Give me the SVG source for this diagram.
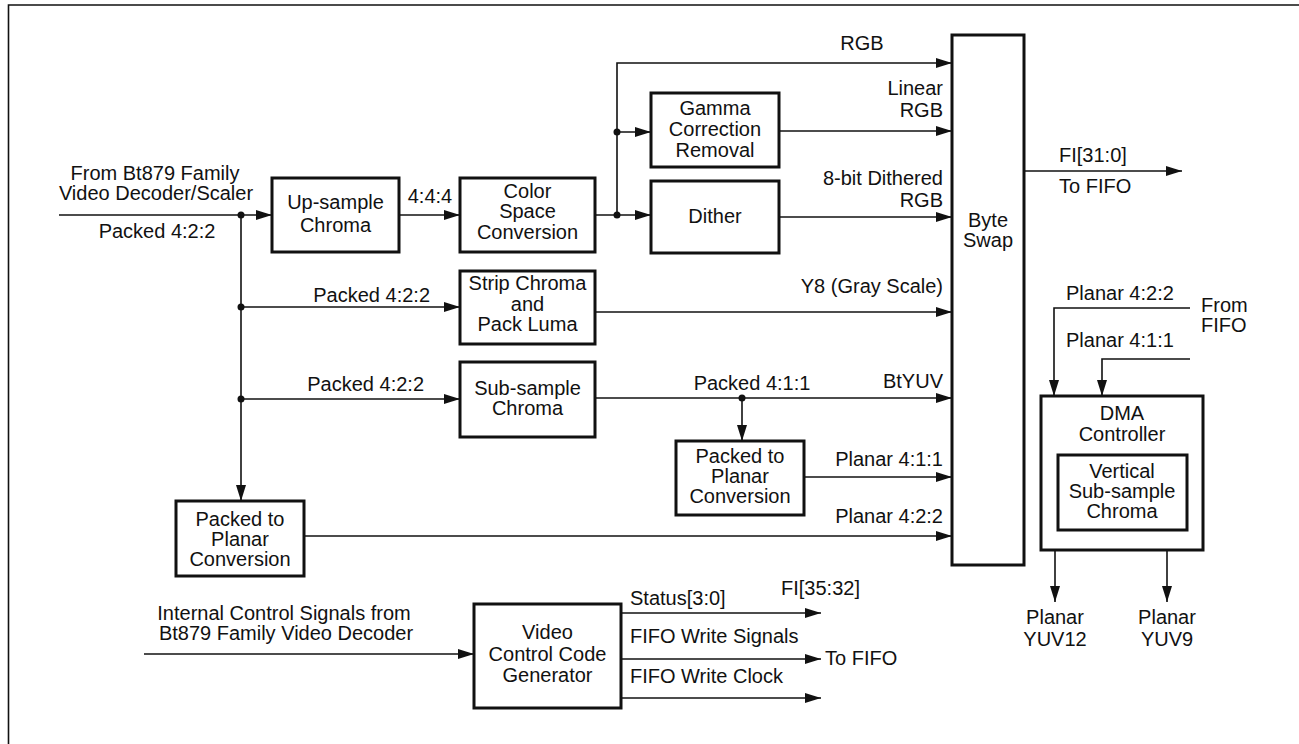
<svg xmlns="http://www.w3.org/2000/svg" width="1299" height="744" viewBox="0 0 1299 744">
<style>
text{font-family:"Liberation Sans",Arial,sans-serif;font-size:20px;fill:#111}
.c{text-anchor:middle}
.r{text-anchor:end}
.box{fill:#fff;stroke:#111;stroke-width:3}
.ln{fill:none;stroke:#111;stroke-width:1.6}
.dot{fill:#111}
</style>
<defs>
<marker id="ah" markerUnits="userSpaceOnUse" markerWidth="17" markerHeight="10" refX="16" refY="5" orient="auto">
<path d="M0,0 L16,5 L0,10 Z" fill="#111"/>
</marker>
</defs>
<rect width="1299" height="744" fill="#fff"/>
<g id="frame"><path class="ln" d="M8.5,744 V5 H1299"/></g>

<g id="connectors">
<path class="ln" d="M59,215 H272" marker-end="url(#ah)"/>
<path class="ln" d="M241,215 V501" marker-end="url(#ah)"/>
<path class="ln" d="M241,307 H460" marker-end="url(#ah)"/>
<path class="ln" d="M241,399 H460" marker-end="url(#ah)"/>
<path class="ln" d="M399,215 H460" marker-end="url(#ah)"/>
<path class="ln" d="M595,215 H651" marker-end="url(#ah)"/>
<path class="ln" d="M617,215 V63 H952" marker-end="url(#ah)"/>
<path class="ln" d="M617,132 H651" marker-end="url(#ah)"/>
<path class="ln" d="M779,131 H952" marker-end="url(#ah)"/>
<path class="ln" d="M779,217 H952" marker-end="url(#ah)"/>
<path class="ln" d="M595,312 H952" marker-end="url(#ah)"/>
<path class="ln" d="M595,398 H952" marker-end="url(#ah)"/>
<path class="ln" d="M742,398 V441" marker-end="url(#ah)"/>
<path class="ln" d="M804,477 H952" marker-end="url(#ah)"/>
<path class="ln" d="M304,536 H952" marker-end="url(#ah)"/>
<path class="ln" d="M1024,171 H1182" marker-end="url(#ah)"/>
<path class="ln" d="M1190,308 H1054 V396" marker-end="url(#ah)"/>
<path class="ln" d="M1190,359 H1102 V396" marker-end="url(#ah)"/>
<path class="ln" d="M1055,550 V602" marker-end="url(#ah)"/>
<path class="ln" d="M1167,530 V602" marker-end="url(#ah)"/>
<path class="ln" d="M144,654 H474" marker-end="url(#ah)"/>
<path class="ln" d="M621,613 H821" marker-end="url(#ah)"/>
<path class="ln" d="M621,659 H821" marker-end="url(#ah)"/>
<path class="ln" d="M621,698 H821" marker-end="url(#ah)"/>
<circle class="dot" cx="241" cy="215" r="3.5"/>
<circle class="dot" cx="241" cy="307" r="3.5"/>
<circle class="dot" cx="241" cy="399" r="3.5"/>
<circle class="dot" cx="617" cy="215" r="3.5"/>
<circle class="dot" cx="617" cy="132" r="3.5"/>
<circle class="dot" cx="742" cy="398" r="3.5"/>
</g>

<g id="labels">
<text class="c" x="155" y="180">From Bt879 Family</text>
<text class="c" x="156" y="200">Video Decoder/Scaler</text>
<text class="c" x="157" y="238">Packed 4:2:2</text>
<text class="c" x="430" y="203">4:4:4</text>
<text class="c" x="862" y="50">RGB</text>
<text class="r" x="943" y="95">Linear</text>
<text class="r" x="943" y="117">RGB</text>
<text class="r" x="943" y="185">8-bit Dithered</text>
<text class="r" x="943" y="207">RGB</text>
<text class="r" x="430" y="302">Packed 4:2:2</text>
<text class="r" x="943" y="293">Y8 (Gray Scale)</text>
<text class="r" x="424" y="391">Packed 4:2:2</text>
<text class="c" x="752" y="390">Packed 4:1:1</text>
<text class="r" x="943" y="388">BtYUV</text>
<text class="r" x="943" y="466">Planar 4:1:1</text>
<text class="r" x="943" y="523">Planar 4:2:2</text>
<text x="1059" y="162">FI[31:0]</text>
<text x="1059" y="193">To FIFO</text>
<text x="1066" y="300">Planar 4:2:2</text>
<text x="1201" y="312">From</text>
<text x="1201" y="332">FIFO</text>
<text x="1066" y="347">Planar 4:1:1</text>
<text class="c" x="1055" y="624">Planar</text>
<text class="c" x="1055" y="646">YUV12</text>
<text class="c" x="1167" y="624">Planar</text>
<text class="c" x="1167" y="646">YUV9</text>
<text class="c" x="284" y="620">Internal Control Signals from</text>
<text class="c" x="286" y="640">Bt879 Family Video Decoder</text>
<text x="630" y="605">Status[3:0]</text>
<text x="781" y="595">FI[35:32]</text>
<text x="630" y="643">FIFO Write Signals</text>
<text x="825" y="665">To FIFO</text>
<text x="630" y="683">FIFO Write Clock</text>
</g>

<g id="upsample">
<rect class="box" x="272" y="178" width="127" height="74"/>
<text class="c" x="335.5" y="209">Up-sample</text>
<text class="c" x="335.5" y="232">Chroma</text>
</g>
<g id="colorspace">
<rect class="box" x="460" y="178" width="135" height="74"/>
<text class="c" x="527.5" y="198">Color</text>
<text class="c" x="527.5" y="218">Space</text>
<text class="c" x="527.5" y="239">Conversion</text>
</g>
<g id="gamma">
<rect class="box" x="651" y="93" width="128" height="74"/>
<text class="c" x="715" y="115">Gamma</text>
<text class="c" x="715" y="136">Correction</text>
<text class="c" x="715" y="157">Removal</text>
</g>
<g id="dither">
<rect class="box" x="651" y="181" width="128" height="72"/>
<text class="c" x="715" y="223">Dither</text>
</g>
<g id="strip">
<rect class="box" x="460" y="271" width="135" height="73"/>
<text class="c" x="527.5" y="290">Strip Chroma</text>
<text class="c" x="527.5" y="310.5">and</text>
<text class="c" x="527.5" y="331">Pack Luma</text>
</g>
<g id="subsample">
<rect class="box" x="460" y="362" width="135" height="75"/>
<text class="c" x="527.5" y="395">Sub-sample</text>
<text class="c" x="527.5" y="415">Chroma</text>
</g>
<g id="p2p2">
<rect class="box" x="676" y="441" width="128" height="74"/>
<text class="c" x="740" y="463">Packed to</text>
<text class="c" x="740" y="483">Planar</text>
<text class="c" x="740" y="503">Conversion</text>
</g>
<g id="p2p1">
<rect class="box" x="176" y="501" width="128" height="75"/>
<text class="c" x="240" y="526">Packed to</text>
<text class="c" x="240" y="546">Planar</text>
<text class="c" x="240" y="566">Conversion</text>
</g>
<g id="byteswap">
<rect class="box" x="952" y="35" width="72" height="530"/>
<text class="c" x="988" y="227">Byte</text>
<text class="c" x="988" y="247">Swap</text>
</g>
<g id="dma">
<rect class="box" x="1041" y="396" width="162" height="154"/>
<text class="c" x="1122" y="420">DMA</text>
<text class="c" x="1122" y="441">Controller</text>
</g>
<g id="vsub">
<rect class="box" x="1058" y="455" width="129" height="75"/>
<text class="c" x="1122" y="478">Vertical</text>
<text class="c" x="1122" y="498">Sub-sample</text>
<text class="c" x="1122" y="518">Chroma</text>
</g>
<g id="vccg">
<rect class="box" x="474" y="604" width="147" height="104"/>
<text class="c" x="547.5" y="639">Video</text>
<text class="c" x="547.5" y="661">Control Code</text>
<text class="c" x="547.5" y="682">Generator</text>
</g>
</svg>
